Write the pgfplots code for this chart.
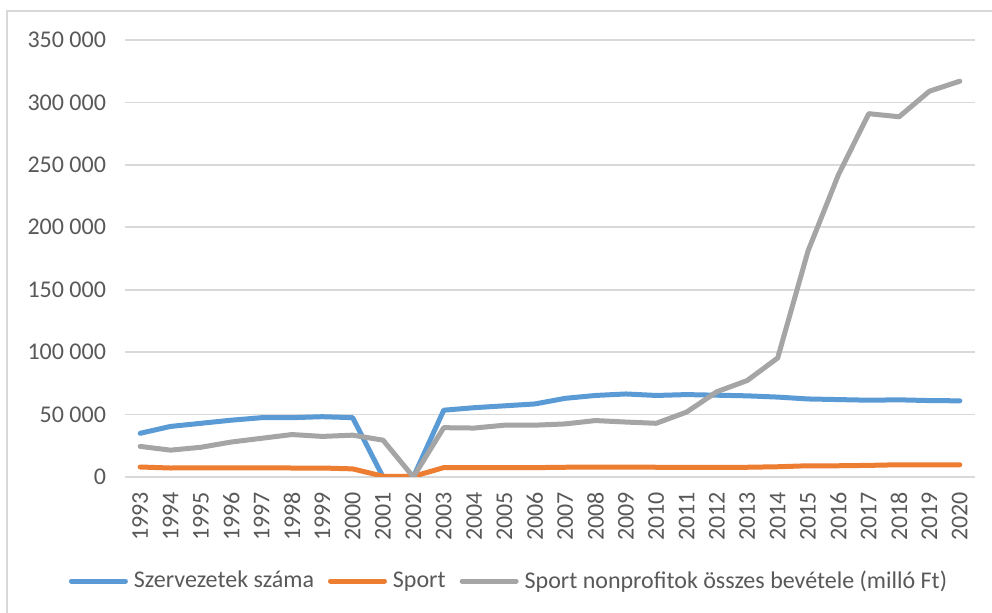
\documentclass[border=0pt]{standalone}
\usepackage{fontspec}
\setmainfont{Carlito}
\usepackage{pgfplots}
\pgfplotsset{compat=1.18}

\definecolor{cblue}{HTML}{5B9BD5}
\definecolor{corange}{HTML}{ED7D31}
\definecolor{cgray}{HTML}{A5A5A5}
\definecolor{ctext}{HTML}{595959}
\definecolor{cgrid}{HTML}{D9D9D9}

\begin{document}
\begin{tikzpicture}
% canvas: 992x613 px at 0.5pt per px
\useasboundingbox (0,0) rectangle (496pt,-306.5pt);
\fill[white] (0,0) rectangle (496pt,-306.5pt);
\draw[cgrid, line width=0.8pt] (3.5pt,-306.5pt) -- (3.5pt,-5.5pt) -- (496pt,-5.5pt);

\begin{axis}[
  at={(62.5pt,-238.5pt)}, anchor=south west,
  scale only axis, width=425pt, height=218.5pt,
  xmin=1992.5, xmax=2020.5, ymin=0, ymax=350000,
  xtick={1993,...,2020},
  ytick={0,50000,...,350000},
  scaled y ticks=false,
  yticklabels={0,50 000,100 000,150 000,200 000,250 000,300 000,350 000},
  /pgf/number format/assume math mode=true,
  xticklabel={\pgfmathprintnumber[1000 sep={},fixed]{\tick}},
  axis line style={draw=none},
  major tick style={draw=none},
  ymajorgrids, grid style={cgrid, line width=0.8pt},
  tick label style={font=\fontsize{12}{14}\selectfont, text=ctext},
  yticklabel style={xshift=-6pt},
  xticklabel style={rotate=90, anchor=east, xshift=-4pt},
  legend style={at={(0.453,-0.238)}, anchor=center, draw=none, fill=none,
    legend columns=3, font=\fontsize{12}{14}\selectfont, text=ctext,
    /tikz/every odd column/.append style={column sep=1pt},
    /tikz/every even column/.append style={column sep=5pt}},
  legend image code/.code={\draw[#1, line cap=round] (0pt,0pt) -- (27pt,0pt);},
  every axis plot/.append style={line width=2.5pt, line join=round, line cap=round, mark=none},
]
\addplot[cblue] coordinates {
 (1993,35000) (1994,40500) (1995,43000) (1996,45500) (1997,47500) (1998,47500)
 (1999,48300) (2000,47500) (2001,0) (2002,0) (2003,53500) (2004,55500)
 (2005,57000) (2006,58500) (2007,63000) (2008,65300) (2009,66500) (2010,65300)
 (2011,66000) (2012,65500) (2013,65000) (2014,64000) (2015,62500) (2016,62000)
 (2017,61500) (2018,61800) (2019,61200) (2020,61000)
};
\addlegendentry{Szervezetek száma}
\addplot[corange] coordinates {
 (1993,8000) (1994,7200) (1995,7300) (1996,7300) (1997,7300) (1998,7200)
 (1999,7200) (2000,6500) (2001,600) (2002,500) (2003,7500) (2004,7500)
 (2005,7500) (2006,7500) (2007,7800) (2008,8000) (2009,8000) (2010,7800)
 (2011,7800) (2012,7800) (2013,7800) (2014,8200) (2015,9000) (2016,9000)
 (2017,9300) (2018,9800) (2019,9800) (2020,9800)
};
\addlegendentry{Sport}
\addplot[cgray] coordinates {
 (1993,24500) (1994,21500) (1995,23800) (1996,28000) (1997,31000) (1998,34000)
 (1999,32500) (2000,33500) (2001,29500) (2002,0) (2003,39500) (2004,39200)
 (2005,41500) (2006,41500) (2007,42500) (2008,45200) (2009,44000) (2010,43000)
 (2011,52000) (2012,68300) (2013,77300) (2014,95300) (2015,181000) (2016,242000)
 (2017,291000) (2018,288500) (2019,309000) (2020,317000)
};
\addlegendentry{Sport nonprofitok összes bevétele (milló Ft)}
\end{axis}
\end{tikzpicture}
\end{document}
